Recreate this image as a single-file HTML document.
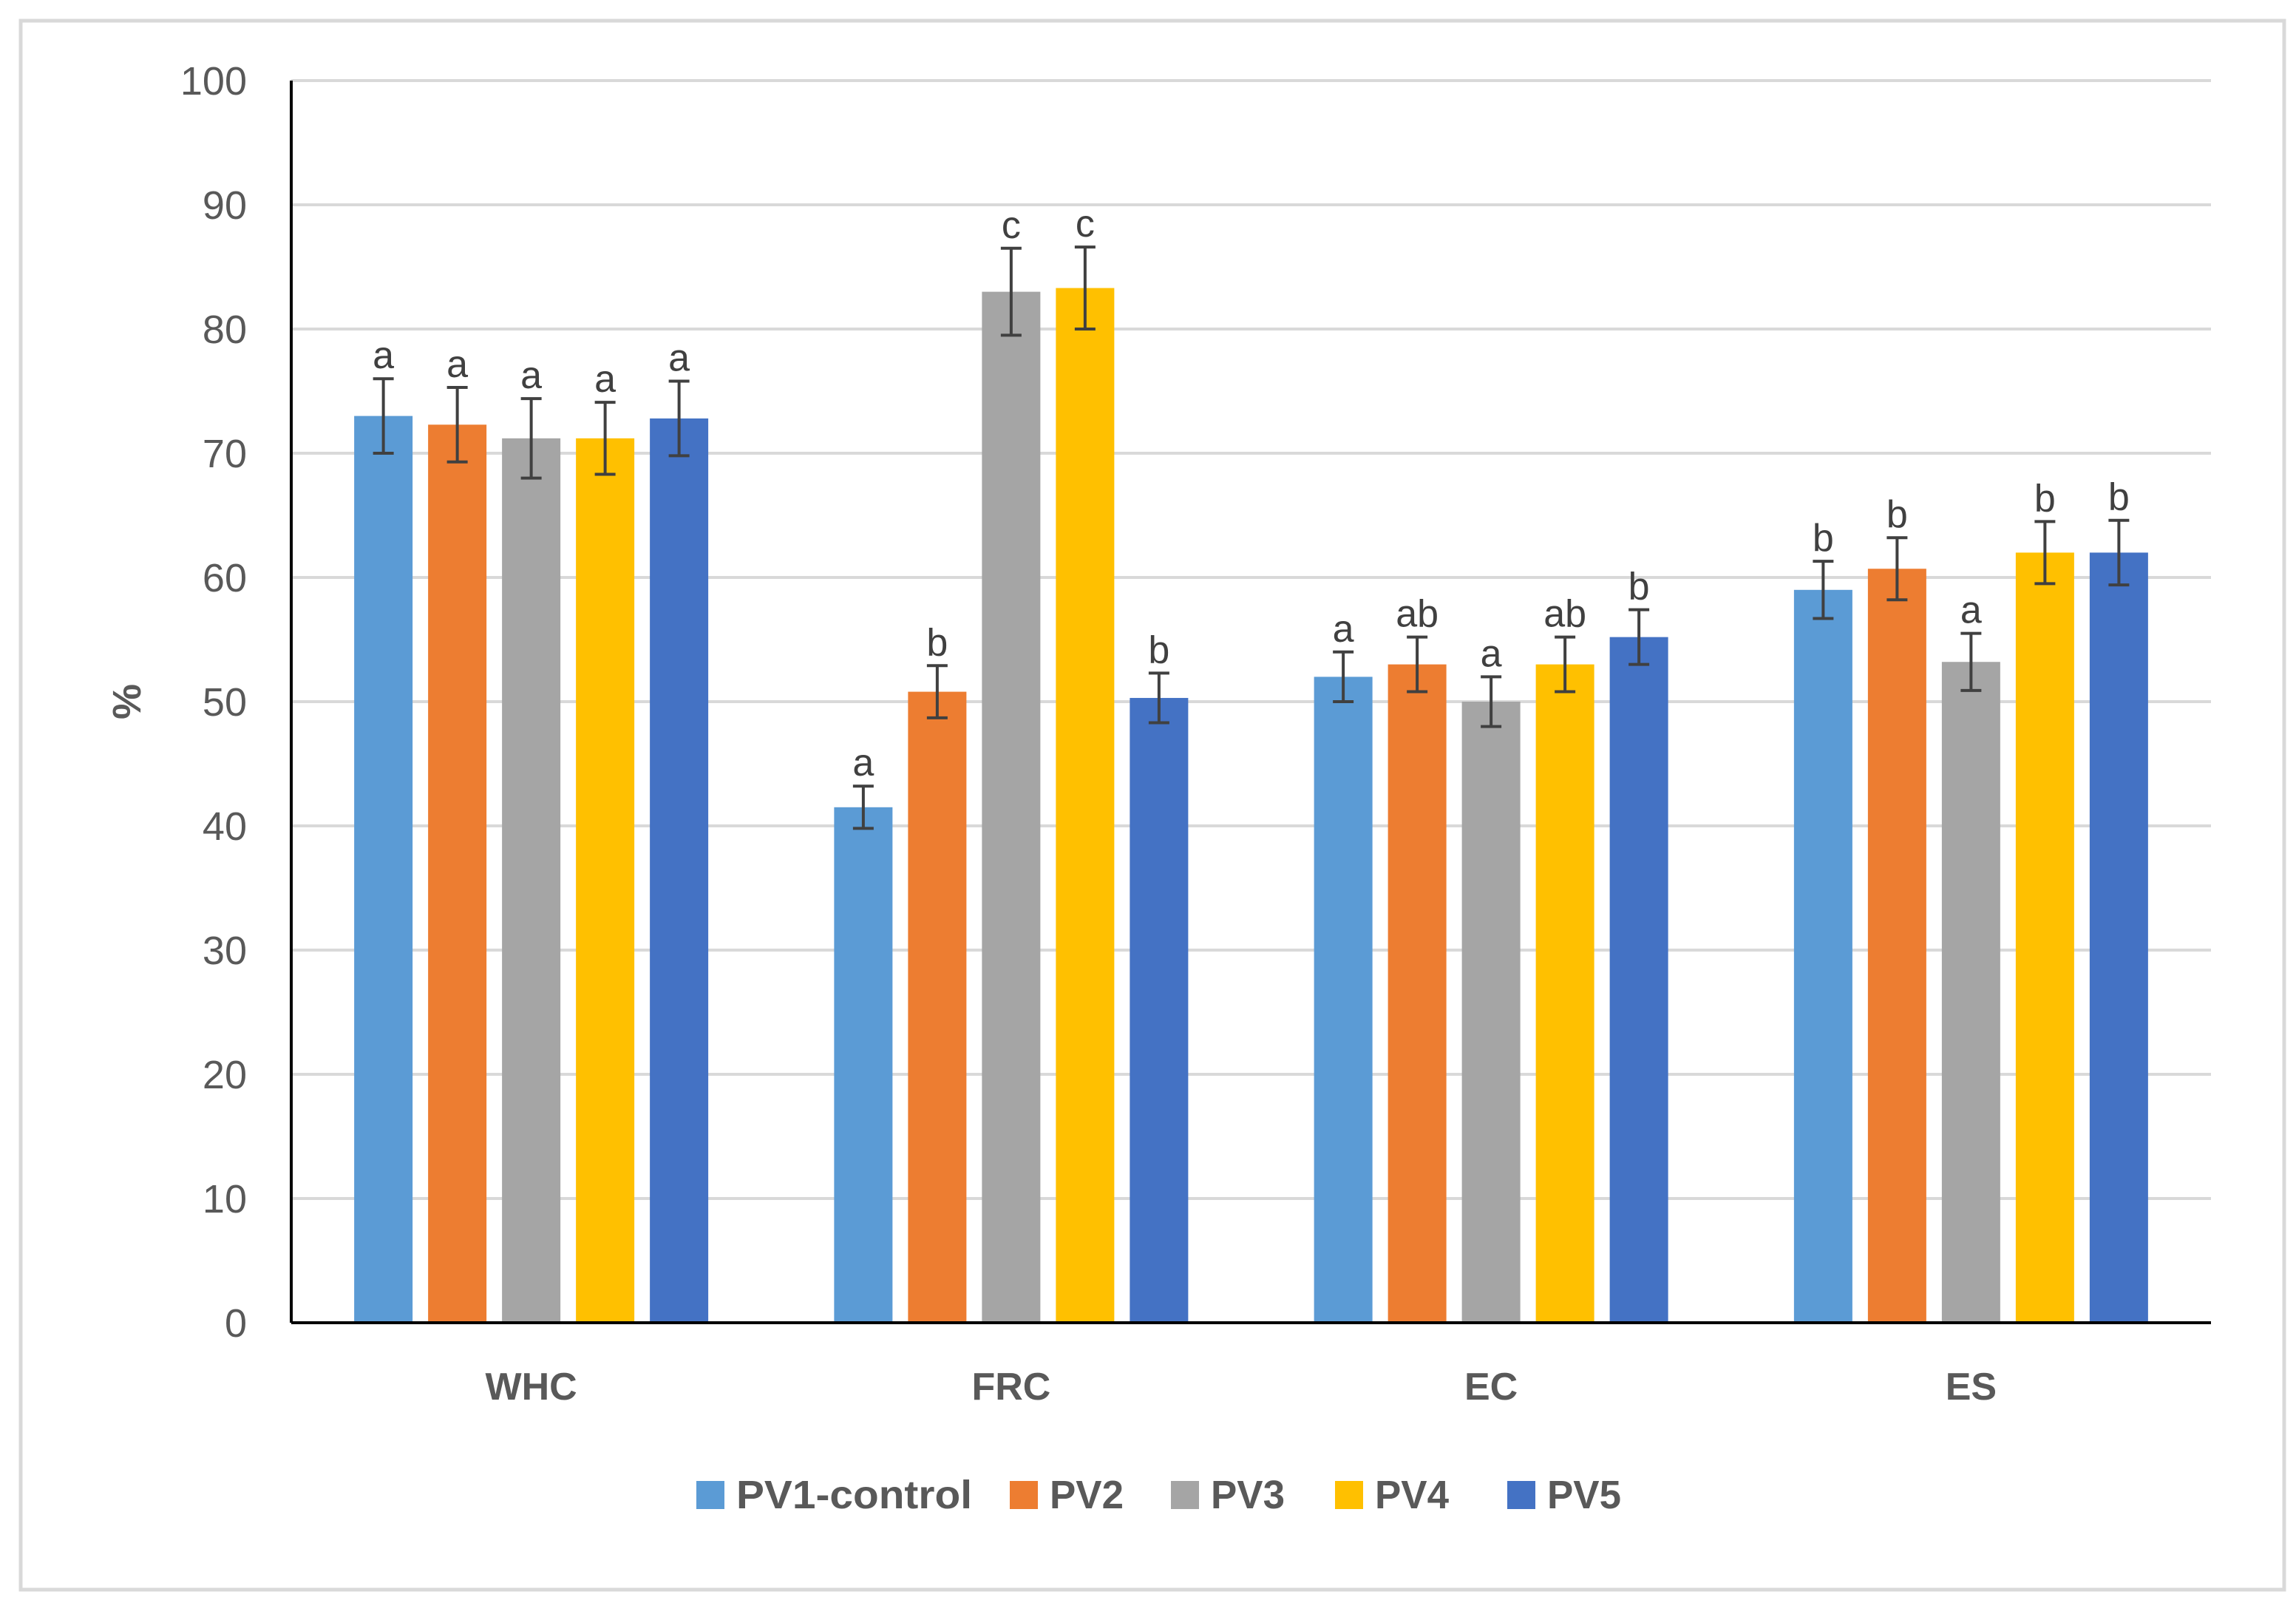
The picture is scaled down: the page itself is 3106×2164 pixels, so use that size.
<!DOCTYPE html>
<html><head><meta charset="utf-8"><style>
html,body{margin:0;padding:0;background:#fff;}
svg{display:block;font-family:"Liberation Sans",sans-serif;}
</style></head><body>
<svg id="chart" width="3106" height="2164" viewBox="0 0 3106 2164">
<rect x="28" y="28" width="3062" height="2122" fill="#fff" stroke="#d9d9d9" stroke-width="5"/>
<g id="grid"></g>
<g id="bars"></g>
<g id="axes"></g>
<g id="legend"></g>
</svg>
<script>
const categories = ["WHC","FRC","EC","ES"];
const seriesNames = ["PV1-control","PV2","PV3","PV4","PV5"];
const colors = ["#5b9bd5","#ed7d31","#a5a5a5","#ffc000","#4472c4"];
const pv1 = [73.0, 41.5, 52.0, 59.0];
const pv2 = [72.3, 50.8, 53.0, 60.7];
const pv3 = [71.2, 83.0, 50.0, 53.2];
const pv4 = [71.2, 83.3, 53.0, 62.0];
const pv5 = [72.8, 50.3, 55.2, 62.0];
const err1 = [3.0, 1.7, 2.0, 2.3];
const err2 = [3.0, 2.1, 2.2, 2.5];
const err3 = [3.2, 3.5, 2.0, 2.3];
const err4 = [2.9, 3.3, 2.2, 2.5];
const err5 = [3.0, 2.0, 2.2, 2.6];
const let1 = ["a","a","a","b"];
const let2 = ["a","b","ab","b"];
const let3 = ["a","c","a","a"];
const let4 = ["a","c","ab","b"];
const let5 = ["a","b","b","b"];
const yTicks = [0,10,20,30,40,50,60,70,80,90,100];
const values=[pv1,pv2,pv3,pv4,pv5], errs=[err1,err2,err3,err4,err5], lets=[let1,let2,let3,let4,let5];
const NS="http://www.w3.org/2000/svg";
const L=394,R=2991,T=109,B=1789;
const y=v=>B-(v/100)*(B-T);
const catW=(R-L)/categories.length;
const xc=i=>L+catW*(i+0.5);
const step=100,bw=79;
function mk(tag,attrs,parent){const e=document.createElementNS(NS,tag);for(const k in attrs)e.setAttribute(k,attrs[k]);parent.appendChild(e);return e;}
const grid=document.getElementById('grid'),bars=document.getElementById('bars'),axes=document.getElementById('axes'),legend=document.getElementById('legend');
yTicks.forEach(t=>{
  if(t>0){const g=mk('line',{x1:L,x2:R,y1:y(t),y2:y(t),stroke:'#d9d9d9','stroke-width':4},grid);
  
  }
  const tx=mk('text',{x:334,y:y(t)+19,'text-anchor':'end','font-size':54,fill:'#595959'},axes);
  tx.textContent=t;
  
  
});
categories.forEach((c,i)=>{
  values.forEach((s,j)=>{
    const cx=xc(i)+(j-2)*step,v=s[i],e=errs[j][i];
    const r=mk('rect',{x:cx-bw/2,y:y(v),width:bw,height:B-y(v),fill:colors[j]},bars);
    
    
    const eg=mk('g',{stroke:'#404040','stroke-width':4},bars);
    
    
    mk('line',{x1:cx,x2:cx,y1:y(v+e),y2:y(v-e)},eg);
    mk('line',{x1:cx-14,x2:cx+14,y1:y(v+e),y2:y(v+e)},eg);
    mk('line',{x1:cx-14,x2:cx+14,y1:y(v-e),y2:y(v-e)},eg);
    const lt=mk('text',{x:cx,y:y(v+e)-14,'text-anchor':'middle','font-size':52,fill:'#404040'},bars);
    lt.textContent=lets[j][i];
    
    
  });
  const cl=mk('text',{x:xc(i),y:1893,'text-anchor':'middle','font-size':52,'font-weight':'bold',fill:'#595959'},axes);
  cl.textContent=c;
  
  
});
const ya=mk('line',{x1:L,x2:L,y1:T,y2:B,stroke:'#000','stroke-width':4},axes);


const xa=mk('line',{x1:L,x2:R,y1:B,y2:B,stroke:'#000','stroke-width':4},axes);


const yt=mk('text',{x:0,y:0,transform:'translate(190,949) rotate(-90)','text-anchor':'middle','font-size':54,'font-weight':'bold',fill:'#595959'},axes);
yt.textContent='%';


const lx=[942,1366,1584,1806,2039];
const lw=[319,100,100,100,100];
seriesNames.forEach((n,j)=>{
  const g=mk('g',{},legend);
  
  
  mk('rect',{x:lx[j],y:2003,width:38,height:38,fill:colors[j]},g);
  const t=mk('text',{x:lx[j]+54,y:2040,'font-size':54,'font-weight':'bold',fill:'#595959',textLength:lw[j],lengthAdjust:'spacingAndGlyphs'},g);
  t.textContent=n;
});
</script>
</body></html>
